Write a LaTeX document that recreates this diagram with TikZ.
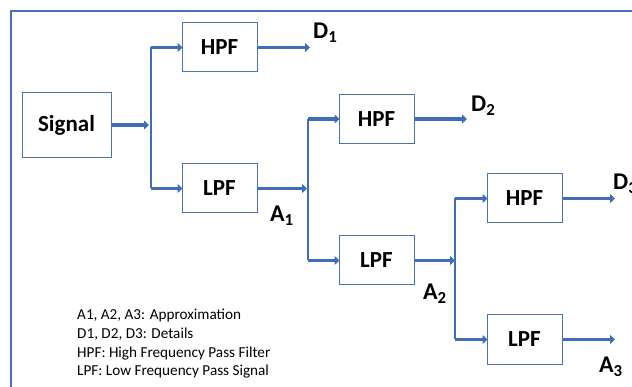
\documentclass[tikz,border=0pt]{standalone}
\usepackage{fontspec}
\setmainfont{Carlito}
\usetikzlibrary{arrows.meta}
\definecolor{flow}{HTML}{3F6DB8}
\definecolor{edge}{HTML}{4A72B8}
\tikzset{
  filt/.style={draw=edge, line width=1pt, fill=white, minimum width=75pt,
    minimum height=49pt, inner sep=0pt, font=\fontsize{23}{26}\selectfont\bfseries},
  thick arrow/.style={draw=flow, line width=3.6pt,
    -{Triangle[length=5pt,width=9pt]}, shorten >=-1pt},
  branch/.style={draw=flow, line width=1.6pt},
  tag/.style={anchor=base west, inner sep=0pt,
    font=\fontsize{24}{26}\selectfont\bfseries},
  legend/.style={anchor=base west, inner sep=0pt,
    font=\fontsize{15.2}{17}\selectfont}
}
\begin{document}
\begin{tikzpicture}[x=1pt, y=-1pt]
  \useasboundingbox (0,0) rectangle (632,387);
  \clip (0,0) rectangle (632,387);
  % outer frame (runs off the right and lower edges)
  \draw[edge, line width=1.2pt] (11,400) -- (11,11) -- (650,11);

  % filter boxes
  \node[filt, minimum width=89pt, minimum height=65pt] (sig) at (66.5,125) {Signal};
  \node[filt] (hpf1) at (219.5,47.5) {HPF};
  \node[filt] (lpf1) at (219.5,188.5) {LPF};
  \node[filt] (hpf2) at (376.5,119) {HPF};
  \node[filt] (lpf2) at (376.5,260.5) {LPF};
  \node[filt] (hpf3) at (524.5,198.5) {HPF};
  \node[filt] (lpf3) at (524.5,339.5) {LPF};

  % branch points and free arrow ends
  \coordinate (j1) at (151,125);
  \coordinate (j2) at (308,188.5);
  \coordinate (j3) at (455,260.5);
  \coordinate (d1) at (309,47.5);
  \coordinate (d2) at (466,119);
  \coordinate (d3) at (614,198.5);
  \coordinate (a3) at (614,339.5);

  % level 1
  \draw[thick arrow] (sig.east) -- ([xshift=-3pt]j1);
  \draw[branch] (j1 |- hpf1) -- (j1 |- lpf1);
  \draw[thick arrow] (j1 |- hpf1) -- (hpf1.west);
  \draw[thick arrow] (j1 |- lpf1) -- (lpf1.west);
  \draw[thick arrow] (hpf1.east) -- (d1);

  % level 2
  \draw[thick arrow] (lpf1.east) -- ([xshift=-2pt]j2);
  \draw[branch] (j2 |- hpf2) -- (j2 |- lpf2);
  \draw[thick arrow] (j2 |- hpf2) -- (hpf2.west);
  \draw[thick arrow] (j2 |- lpf2) -- (lpf2.west);
  \draw[thick arrow] (hpf2.east) -- (d2);

  % level 3
  \draw[thick arrow] (lpf2.east) -- ([xshift=-1pt]j3);
  \draw[branch] (j3 |- hpf3) -- (j3 |- lpf3);
  \draw[thick arrow] (j3 |- hpf3) -- (hpf3.west);
  \draw[thick arrow] (j3 |- lpf3) -- (lpf3.west);
  \draw[thick arrow] (hpf3.east) -- (d3);
  \draw[thick arrow] (lpf3.east) -- (a3);

  % output labels
  \node[tag] (lD1) at (313,39) {D\textsubscript{1}};
  \node[tag] (lD2) at (471,112) {D\textsubscript{2}};
  \node[tag] (lD3) at (613,190) {D\textsubscript{3}};
  \node[tag] (lA1) at (270,222) {A\textsubscript{1}};
  \node[tag] (lA2) at (423,300) {A\textsubscript{2}};
  \node[tag] (lA3) at (599,373) {A\textsubscript{3}};

  % legend, one line per node
  \node[legend] (key1) at (77,320)   {A1, A2, A3: Approximation};
  \node[legend] (key2) at (77,338.7) {D1, D2, D3: Details};
  \node[legend] (key3) at (77,357.3) {HPF: High Frequency Pass Filter};
  \node[legend] (key4) at (77,375.9) {LPF: Low Frequency Pass Signal};
\end{tikzpicture}
\end{document}
